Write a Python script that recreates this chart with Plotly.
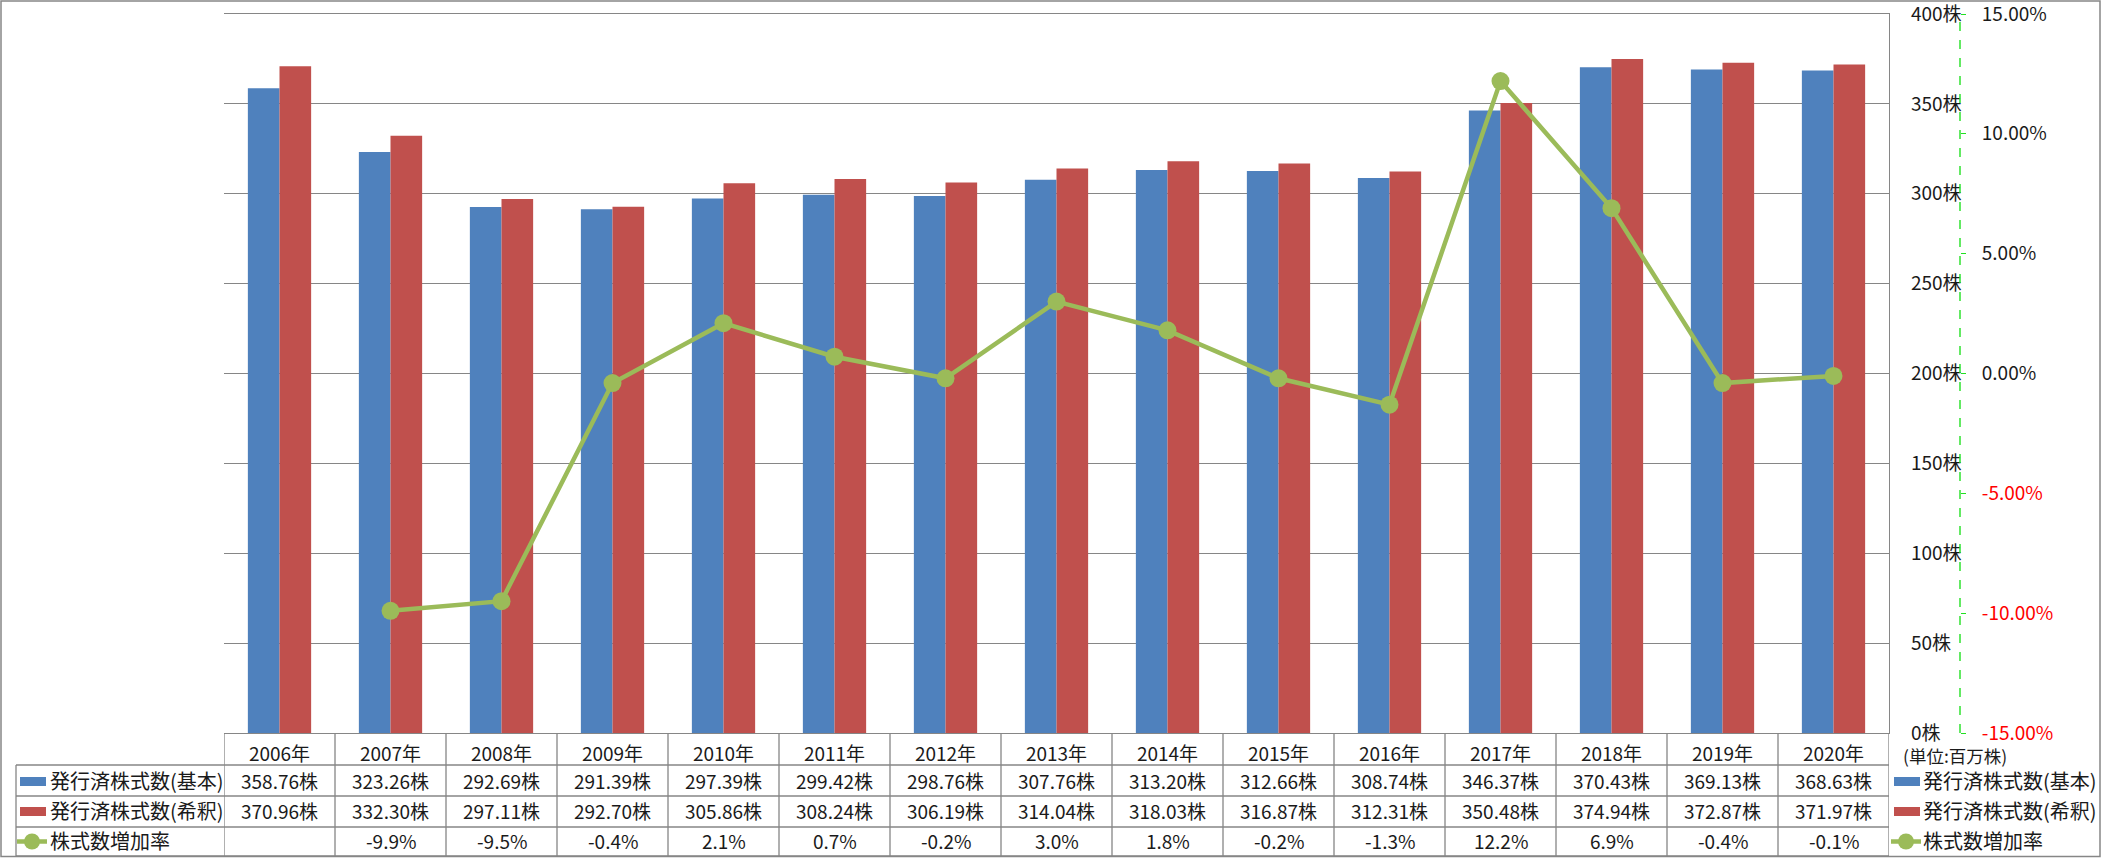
import plotly.graph_objects as go

# ---------------- data ----------------
years = ["2006年", "2007年", "2008年", "2009年", "2010年", "2011年", "2012年", "2013年",
         "2014年", "2015年", "2016年", "2017年", "2018年", "2019年", "2020年"]
shares_basic = [358.76, 323.26, 292.69, 291.39, 297.39, 299.42, 298.76, 307.76,
                313.20, 312.66, 308.74, 346.37, 370.43, 369.13, 368.63]
shares_diluted = [370.96, 332.30, 297.11, 292.70, 305.86, 308.24, 306.19, 314.04,
                  318.03, 316.87, 312.31, 350.48, 374.94, 372.87, 371.97]
growth_rate = [None, -9.9, -9.5, -0.4, 2.1, 0.7, -0.2, 3.0, 1.8, -0.2, -1.3, 12.2, 6.9, -0.4, -0.1]

series_names = ["発行済株式数(基本)", "発行済株式数(希釈)", "株式数増加率"]
left_ticks = [0, 50, 100, 150, 200, 250, 300, 350, 400]
right_ticks = [-15, -10, -5, 0, 5, 10, 15]
unit_label = "(単位:百万株)"

# ---------------- style ----------------
W, H = 2101, 858
ML, MR, MT, MB = 224, 0, 14, 125
PW, PH = W - ML - MR, H - MT - MB
BLUE, RED, GREEN = "#4F81BD", "#C0504D", "#9BBB59"
GRID = "#868686"
DASHGREEN = "#22E022"
FONT = "Noto Sans CJK JP"
TXT = "#1a1a1a"
FS = 19      # numbers / ticks
FSL = 20     # legend text


def px_x(px):
    return (px - ML) / PW


def px_y(py):
    return (H - MB - py) / PH


fig = go.Figure()
fig.add_trace(go.Bar(x=years, y=shares_basic, name=series_names[0], marker_color=BLUE,
                     marker_line_width=0, yaxis="y"))
fig.add_trace(go.Bar(x=years, y=shares_diluted, name=series_names[1], marker_color=RED,
                     marker_line_width=0, yaxis="y"))
fig.add_trace(go.Scatter(x=years, y=growth_rate, name=series_names[2], mode="lines+markers",
                         line=dict(color=GREEN, width=4.5), marker=dict(size=18, color=GREEN),
                         yaxis="y2", connectgaps=False))

x_end = px_x(1889)
y2_pos = px_x(1960)

right_text = []
for v in right_ticks:
    s = f"{v:.2f}%"
    if v < 0:
        s = f"<span style='color:#FF0000'>{s}</span>"
    right_text.append(s)

fig.update_layout(
    width=W, height=H,
    margin=dict(l=ML, r=MR, t=MT, b=MB, autoexpand=False),
    paper_bgcolor="white", plot_bgcolor="white",
    template="none",
    showlegend=False,
    barmode="group", bargap=0.43, bargroupgap=0,
    font=dict(family=FONT, size=FS, color=TXT),
    xaxis=dict(domain=[0, x_end], range=[-0.5, 14.5], type="category",
               showline=True, mirror=True, linecolor=GRID, linewidth=1.3, ticks="",
               showgrid=False, tickfont=dict(size=FS, color=TXT), ticklabelstandoff=4,
               automargin=False, zeroline=False),
    yaxis=dict(range=[0, 400], tickvals=left_ticks, ticktext=[f"{v}株" for v in left_ticks],
               side="right", anchor="x", showline=True, linecolor=GRID, linewidth=1.3,
               showgrid=True, gridcolor=GRID, gridwidth=1.3, ticks="", zeroline=False,
               ticklabelstandoff=17, ticklabeloverflow="allow", automargin=False,
               tickfont=dict(size=FS, color=TXT)),
    yaxis2=dict(range=[-15, 15], tickvals=right_ticks, ticktext=right_text,
                overlaying="y", anchor="free", position=y2_pos, side="right",
                showline=False, showgrid=False, zeroline=False,
                ticks="outside", ticklen=5, tickcolor=DASHGREEN, tickwidth=1,
                ticklabelstandoff=12, ticklabeloverflow="allow", automargin=False,
                tickfont=dict(size=FS, color=TXT)),
    yaxis3=dict(range=[-15, 15], tickvals=[-10, -5, 5, 10], overlaying="y", anchor="x",
                side="left", showticklabels=False, ticks="", showline=False,
                showgrid=True, gridcolor=DASHGREEN, gridwidth=1.2, griddash="dash",
                zeroline=False, automargin=False),
)

shapes = []
line_gray = dict(color=GRID, width=1.3)

# secondary axis dashed line
shapes.append(dict(type="line", xref="paper", yref="paper", x0=y2_pos, x1=y2_pos, y0=0, y1=1,
                   line=dict(color=DASHGREEN, width=1.4, dash="dash")))

# outer border
shapes.append(dict(type="rect", xref="paper", yref="paper", x0=px_x(1), x1=px_x(2100),
                   y0=px_y(856.5), y1=px_y(1), line=dict(color=GRID, width=1.5),
                   fillcolor="rgba(0,0,0,0)"))

# table horizontal lines
for yy in [765, 796, 827, 856]:
    shapes.append(dict(type="line", xref="paper", yref="paper", x0=px_x(16), x1=x_end,
                       y0=px_y(yy), y1=px_y(yy), line=line_gray))
# table vertical lines (category boundaries)
for i in range(len(years) + 1):
    shapes.append(dict(type="line", xref="x", yref="paper", x0=i - 0.5, x1=i - 0.5,
                       y0=px_y(856), y1=0, line=line_gray))
shapes.append(dict(type="line", xref="paper", yref="paper", x0=px_x(16), x1=px_x(16),
                   y0=px_y(856), y1=px_y(765), line=line_gray))

annotations = []
row_y = [781, 811, 841]


def legend_key(x_left, yc, kind):
    if kind in (0, 1):
        col = BLUE if kind == 0 else RED
        shapes.append(dict(type="rect", xref="paper", yref="paper",
                           x0=px_x(x_left), x1=px_x(x_left + 26),
                           y0=px_y(yc + 4.5), y1=px_y(yc - 4.5),
                           fillcolor=col, line=dict(width=0)))
    else:
        shapes.append(dict(type="line", xref="paper", yref="paper",
                           x0=px_x(x_left - 3), x1=px_x(x_left + 27),
                           y0=px_y(yc), y1=px_y(yc), line=dict(color=GREEN, width=4.5)))
        shapes.append(dict(type="circle", xref="paper", yref="paper",
                           x0=px_x(x_left + 12 - 8), x1=px_x(x_left + 12 + 8),
                           y0=px_y(yc + 8), y1=px_y(yc - 8),
                           fillcolor=GREEN, line=dict(width=0)))


for k in range(3):
    legend_key(20, row_y[k] + 0.5, k)
    annotations.append(dict(x=px_x(48), y=px_y(row_y[k] - 1), xref="paper", yref="paper",
                            text=series_names[k], showarrow=False, xanchor="left",
                            yanchor="middle", font=dict(size=FSL, color=TXT)))
    legend_key(1894, row_y[k] + 0.5, k)
    annotations.append(dict(x=px_x(1921), y=px_y(row_y[k] - 1), xref="paper", yref="paper",
                            text=series_names[k], showarrow=False, xanchor="left",
                            yanchor="middle", font=dict(size=FSL, color=TXT)))

for i, yr in enumerate(years):
    annotations.append(dict(x=yr, y=px_y(row_y[0] - 1), xref="x", yref="paper",
                            text=f"{shares_basic[i]:.2f}株", showarrow=False,
                            yanchor="middle", font=dict(size=FS, color=TXT)))
    annotations.append(dict(x=yr, y=px_y(row_y[1] - 1), xref="x", yref="paper",
                            text=f"{shares_diluted[i]:.2f}株", showarrow=False,
                            yanchor="middle", font=dict(size=FS, color=TXT)))
    if growth_rate[i] is not None:
        annotations.append(dict(x=yr, y=px_y(row_y[2] - 1), xref="x", yref="paper",
                                text=f"{growth_rate[i]:.1f}%", showarrow=False,
                                yanchor="middle", font=dict(size=FS, color=TXT)))

annotations.append(dict(x=px_x(1901), y=px_y(755), xref="paper", yref="paper",
                        text=unit_label, showarrow=False, xanchor="left", yanchor="middle",
                        font=dict(size=17.5, color=TXT)))

fig.update_layout(shapes=shapes, annotations=annotations)
fig.write_html("out.html")
